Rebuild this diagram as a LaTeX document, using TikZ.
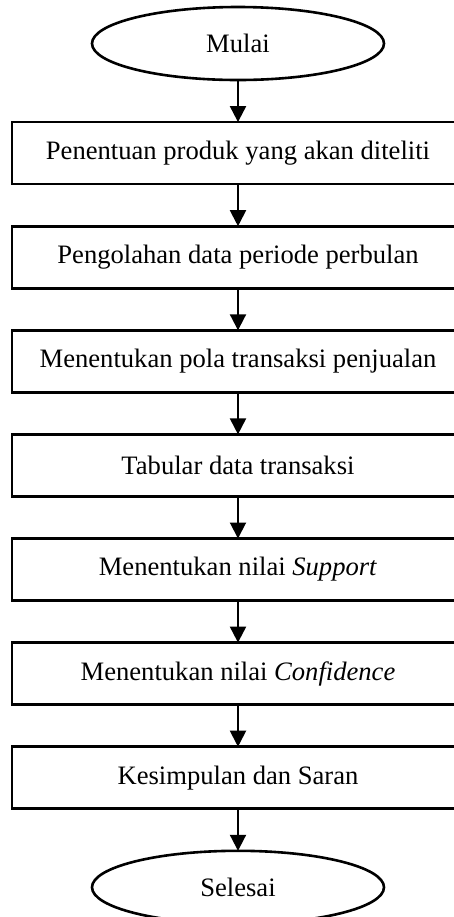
\documentclass[tikz,border=0pt]{standalone}
\usepackage{fontspec}
\setmainfont{Liberation Serif}
\usetikzlibrary{shapes,arrows.meta}
\usetikzlibrary{positioning}

\begin{document}
\begin{tikzpicture}[
  node distance=21.05pt,
  font=\fontsize{13.3}{15}\selectfont,
  proses/.style={rectangle, draw, line width=1.3pt, outer sep=0pt, text centered, minimum width=226pt, minimum height=31pt},
  terminal/.style={ellipse, draw, line width=1.3pt, outer sep=0pt, text centered, minimum width=146pt, minimum height=36.5pt},
  panah/.style={-{Triangle[length=8pt,width=8pt]}, line width=1pt}
]
\useasboundingbox (0,0) rectangle (227pt,-458.5pt);

\node[terminal] (mulai) at (119pt,-21.75pt) {Mulai};
\node[proses, below=of mulai] (produk) {Penentuan produk yang akan diteliti};
\node[proses, below=of produk] (olah) {Pengolahan data periode perbulan};
\node[proses, below=of olah] (pola) {Menentukan pola transaksi penjualan};
\node[proses, below=of pola] (tabular) {Tabular data transaksi};
\node[proses, below=of tabular] (support) {Menentukan nilai \textit{Support}};
\node[proses, below=of support] (confidence) {Menentukan nilai \textit{Confidence}};
\node[proses, below=of confidence] (simpulan) {Kesimpulan dan Saran};
\node[terminal, below=of simpulan] (selesai) {Selesai};

\path[panah] (mulai) edge (produk);
\path[panah] (produk) edge (olah);
\path[panah] (olah) edge (pola);
\path[panah] (pola) edge (tabular);
\path[panah] (tabular) edge (support);
\path[panah] (support) edge (confidence);
\path[panah] (confidence) edge (simpulan);
\path[panah] (simpulan) edge (selesai);
\end{tikzpicture}
\end{document}
